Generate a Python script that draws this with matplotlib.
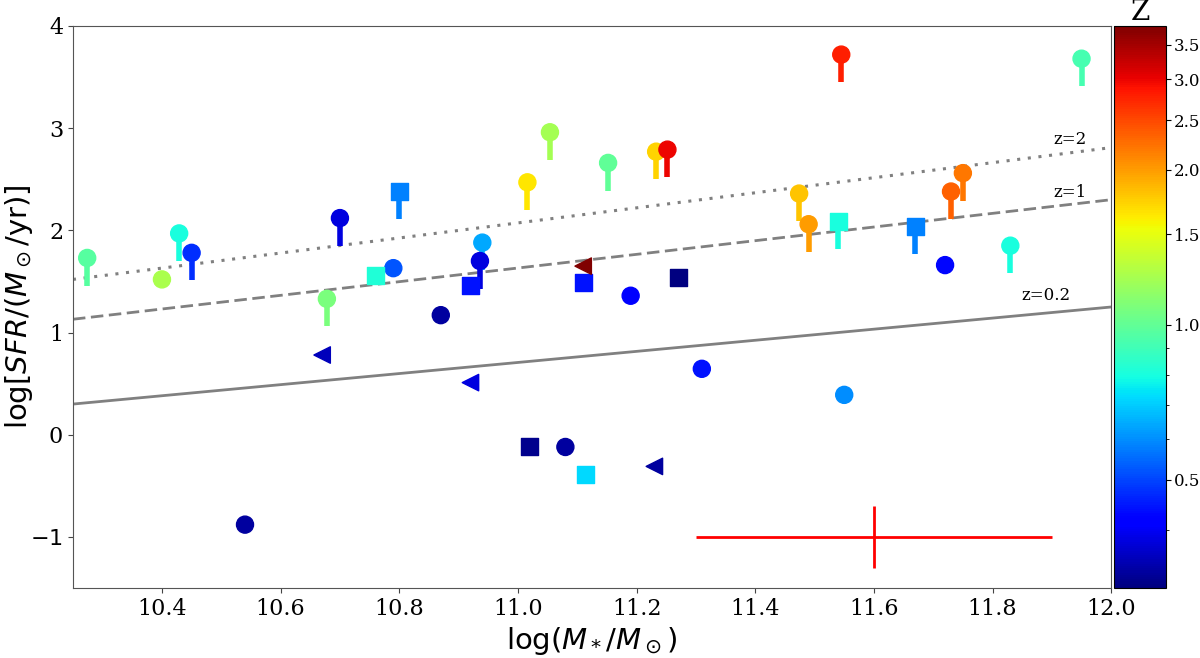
import numpy as np
import matplotlib.pyplot as plt
from matplotlib.colors import LogNorm

# circles with a downward stick
circ_x = [10.274, 10.429, 10.45, 10.70, 10.678, 10.936, 10.94, 11.016, 11.054, 11.152,
          11.233, 11.252, 11.545, 11.474, 11.49, 11.73, 11.75, 11.83, 11.95]
circ_y = [1.73, 1.97, 1.78, 2.12, 1.33, 1.70, 1.88, 2.47, 2.96, 2.66,
          2.77, 2.79, 3.72, 2.36, 2.06, 2.38, 2.56, 1.85, 3.68]
circ_z = [0.97, 0.80, 0.47, 0.38, 1.08, 0.38, 0.64, 1.65, 1.22, 1.0,
          1.72, 3.0, 2.8, 1.8, 2.0, 2.35, 2.2, 0.80, 0.92]

# squares with a downward stick
sqs_x = [10.80, 11.54, 11.67]
sqs_y = [2.38, 2.09, 2.04]
sqs_z = [0.58, 0.80, 0.58]

# plain circles
dot_x = [10.40, 10.79, 10.87, 11.19, 11.31, 11.55, 11.72, 11.08, 10.54]
dot_y = [1.52, 1.63, 1.17, 1.36, 0.645, 0.39, 1.66, -0.12, -0.88]
dot_z = [1.25, 0.52, 0.33, 0.42, 0.44, 0.60, 0.43, 0.33, 0.33]

# plain squares
sq_x = [10.76, 10.92, 11.11, 11.27, 11.02, 11.114]
sq_y = [1.56, 1.46, 1.49, 1.54, -0.12, -0.385]
sq_z = [0.82, 0.44, 0.44, 0.31, 0.32, 0.72]

# triangles
tri_x = [10.67, 10.92, 11.11, 11.23]
tri_y = [0.78, 0.51, 1.65, -0.31]
tri_z = [0.35, 0.38, 3.8, 0.33]

stick = 0.27

# main-sequence lines (endpoints)
ms_x = [10.25, 12.0]
ms02_y = [0.30, 1.25]
ms1_y = [1.13, 2.30]
ms2_y = [1.52, 2.81]

cb_ticks = [0.5, 1.0, 1.5, 2.0, 2.5, 3.0, 3.5]

plt.rcParams['font.family'] = 'DejaVu Serif'
plt.rcParams['mathtext.fontset'] = 'dejavusans'

fig = plt.figure(figsize=(12, 6.58), dpi=100)
ax = fig.add_axes([0.0608, 0.1064, 0.8652, 0.8541])
cax = fig.add_axes([0.9283, 0.1064, 0.0434, 0.8541])

cmap = plt.get_cmap('jet')
norm = LogNorm(vmin=0.308, vmax=3.81)

ax.plot(ms_x, ms02_y, color='gray', lw=2, ls='-')
ax.plot(ms_x, ms1_y, color='gray', lw=2, ls=(0, (4.5, 2)))
ax.plot(ms_x, ms2_y, color='gray', lw=2.2, ls=(0, (1, 2.5)))
ax.text(11.93, 2.89, 'z=2', fontsize=12, ha='center', va='center')
ax.text(11.93, 2.37, 'z=1', fontsize=12, ha='center', va='center')
ax.text(11.89, 1.36, 'z=0.2', fontsize=12, ha='center', va='center')

ax.errorbar([11.6], [-1.0], xerr=[0.3], yerr=[0.3], color='red', lw=2, capsize=0, fmt='none')

cx, cy = np.array(circ_x), np.array(circ_y)
ax.vlines(cx, cy - stick, cy, colors=cmap(norm(circ_z)), lw=4, zorder=3)
ax.scatter(cx, cy, c=circ_z, cmap=cmap, norm=norm, marker='o', s=150, zorder=3)

sx, sy = np.array(sqs_x), np.array(sqs_y)
ax.vlines(sx, sy - stick, sy, colors=cmap(norm(sqs_z)), lw=4, zorder=3)
ax.scatter(sx, sy, c=sqs_z, cmap=cmap, norm=norm, marker='s', s=150, zorder=3)

ax.scatter(dot_x, dot_y, c=dot_z, cmap=cmap, norm=norm, marker='o', s=150, zorder=3)
ax.scatter(sq_x, sq_y, c=sq_z, cmap=cmap, norm=norm, marker='s', s=150, zorder=3)
sc = ax.scatter(tri_x, tri_y, c=tri_z, cmap=cmap, norm=norm, marker='<', s=140, zorder=3)

ax.set_xlim(10.25, 12.0)
ax.set_ylim(-1.5, 4)
ax.set_xticks([10.4, 10.6, 10.8, 11.0, 11.2, 11.4, 11.6, 11.8, 12.0])
ax.set_yticks([-1, 0, 1, 2, 3, 4])
ax.set_yticklabels(['$-1$', '0', '1', '2', '3', '4'], fontsize=16)
ax.tick_params(labelsize=16, color='#444444')
for s in ax.spines.values():
    s.set_color('#555555')
ax.set_xlabel(r'$\log(M_*/M_\odot)$', fontsize=21, family='DejaVu Sans')
ax.set_ylabel(r'$\log[SFR/(M_\odot/{\rm yr})]$', fontsize=21, family='DejaVu Sans')
ax.yaxis.set_label_coords(-0.037, 0.5)

cb = fig.colorbar(sc, cax=cax)
cb.set_ticks(cb_ticks)
cb.set_ticklabels(['%.1f' % t for t in cb_ticks])
cb.ax.tick_params(labelsize=12, length=3.5, pad=2)
cb.ax.set_title('Z', fontsize=20, pad=2)

fig.savefig('out.png', dpi=100)
